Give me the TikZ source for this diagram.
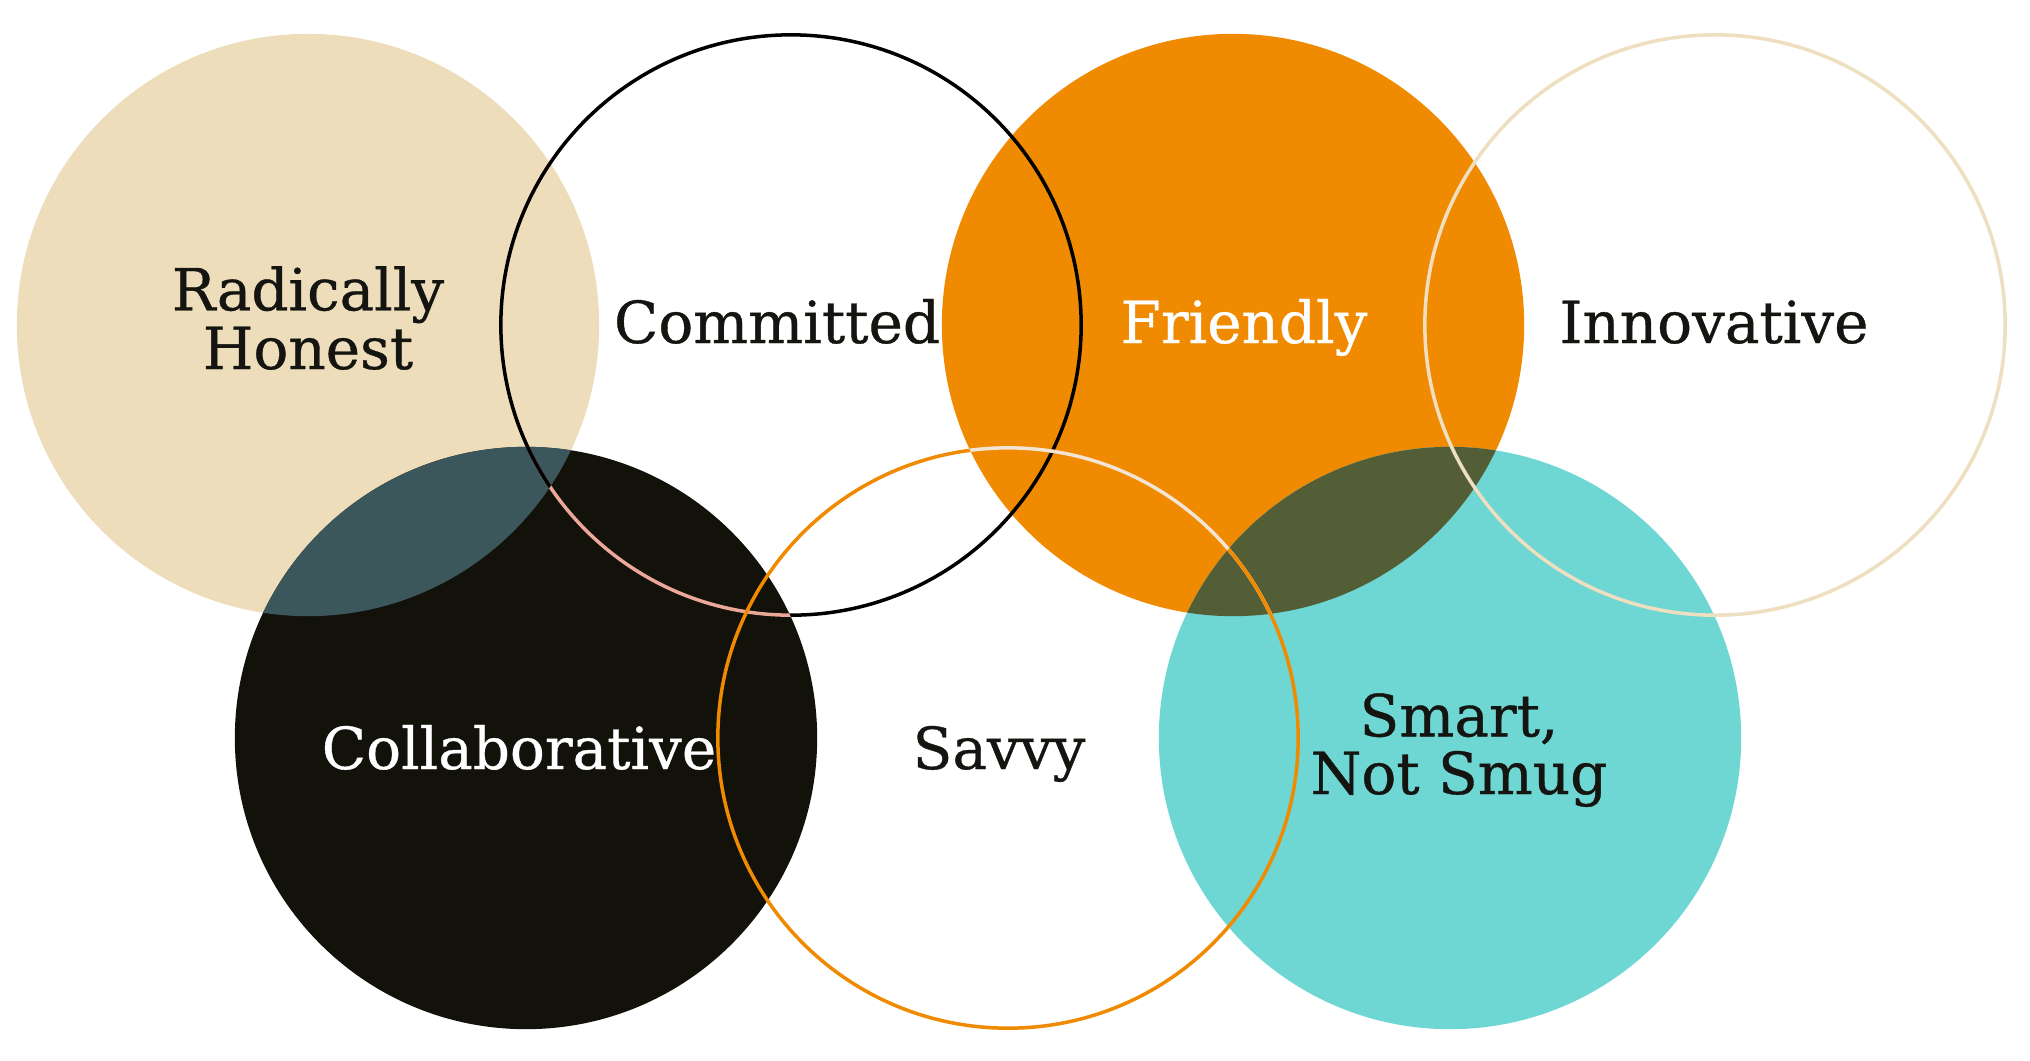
\documentclass[tikz,border=0pt]{standalone}
\usepackage{fontspec}
\setmainfont{DejaVu Serif}
\newfontfamily\lblfont[FakeBold=0.6]{DejaVu Serif}
\definecolor{tanfill}{HTML}{EDDDBA}
\definecolor{orangefill}{HTML}{F08A00}
\definecolor{blackfill}{HTML}{12110A}
\definecolor{tealfill}{HTML}{6ED6D3}
\definecolor{slatefill}{HTML}{3B575C}
\definecolor{olivefill}{HTML}{535E36}
\definecolor{pinkline}{HTML}{EBA898}
\definecolor{paleline}{HTML}{F3E4D4}
\definecolor{tanline}{HTML}{EEDFC0}
\definecolor{darktext}{HTML}{141410}
\begin{document}
\begin{tikzpicture}[x=0.01cm,y=-0.01cm,
  ring/.style={line width=0.035cm},
  lbl/.style={anchor=base,align=center,text=darktext,inner sep=0pt,
    font={\lblfont\fontsize{16.5}{15.2}\selectfont}},
  lblw/.style={lbl,text=white}]
\useasboundingbox (0,0) rectangle (2030,1060);
\fill[white] (0,0) rectangle (2030,1060);
\coordinate (cH) at (308,325);
\coordinate (cM) at (791,325);
\coordinate (cF) at (1233,325);
\coordinate (cI) at (1715,325);
\coordinate (cC) at (526,738);
\coordinate (cV) at (1008,738);
\coordinate (cS) at (1450,738);
% fills
\fill[tanfill] (cH) circle[radius=2.91cm];
\fill[orangefill] (cF) circle[radius=2.91cm];
\fill[blackfill] (cC) circle[radius=2.91cm];
\fill[tealfill] (cS) circle[radius=2.91cm];
\begin{scope}
  \clip (cH) circle[radius=2.91cm];
  \fill[slatefill] (cC) circle[radius=2.91cm];
\end{scope}
\begin{scope}
  \clip (cF) circle[radius=2.91cm];
  \fill[olivefill] (cS) circle[radius=2.91cm];
\end{scope}
% outlines
\draw[ring,black] (cM) circle[radius=2.9cm];
\begin{scope}
  \clip (cC) circle[radius=2.91cm];
  \draw[ring,pinkline] (cM) circle[radius=2.9cm];
  \clip (cH) circle[radius=2.91cm];
  \draw[ring,black] (cM) circle[radius=2.9cm];
\end{scope}
\draw[ring,orangefill] (cV) circle[radius=2.9cm];
\begin{scope}
  \clip (cF) circle[radius=2.91cm];
  \draw[ring,paleline] (cV) circle[radius=2.9cm];
  \clip (cS) circle[radius=2.91cm];
  \draw[ring,orangefill] (cV) circle[radius=2.9cm];
\end{scope}
\draw[ring,tanline] (cI) circle[radius=2.9cm];
% labels
\node[lbl] (tH) at (308,369) {Radically\\Honest};
\node[lbl] (tM) at (777,343) {Committed};
\node[lblw] (tF) at (1244,343) {Friendly};
\node[lbl] (tI) at (1714,343) {Innovative};
\node[lblw] (tC) at (519,769) {Collaborative};
\node[lbl] (tV) at (999,769) {Savvy};
\node[lbl,font={\lblfont\fontsize{16.5}{16.4}\selectfont}] (tS) at (1459,794) {Smart,\\Not Smug};
\end{tikzpicture}
\end{document}
